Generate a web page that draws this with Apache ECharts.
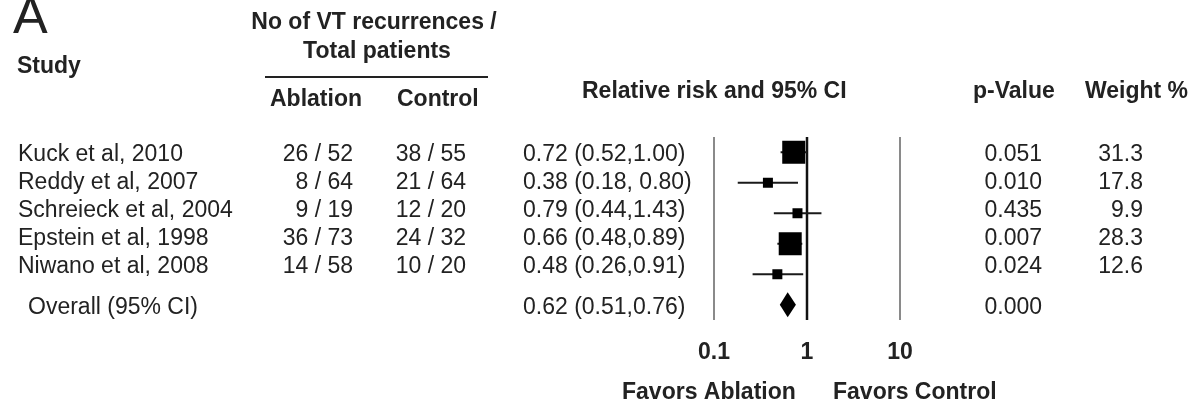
<!DOCTYPE html>
<html>
<head>
<meta charset="utf-8">
<script src="https://cdn.jsdelivr.net/npm/echarts@6/dist/echarts.min.js"></script>
<style>
html,body{margin:0;padding:0;background:#fff;}
#chart{width:1192px;height:402px;}
</style>
</head>
<body>
<div id="chart"></div>
<script>
// ---- data ----
const studies = ['Kuck et al, 2010', 'Reddy et al, 2007', 'Schreieck et al, 2004', 'Epstein et al, 1998', 'Niwano et al, 2008'];
const overallLabel = 'Overall (95% CI)';
const ablation = ['26 / 52', '8 / 64', '9 / 19', '36 / 73', '14 / 58'];
const control = ['38 / 55', '21 / 64', '12 / 20', '24 / 32', '10 / 20'];
const rr = [0.72, 0.38, 0.79, 0.66, 0.48];
const ciLow = [0.52, 0.18, 0.44, 0.48, 0.26];
const ciHigh = [1.00, 0.80, 1.43, 0.89, 0.91];
const rrText = ['0.72 (0.52,1.00)', '0.38 (0.18, 0.80)', '0.79 (0.44,1.43)', '0.66 (0.48,0.89)', '0.48 (0.26,0.91)'];
const pValues = ['0.051', '0.010', '0.435', '0.007', '0.024'];
const weights = ['31.3', '17.8', '9.9', '28.3', '12.6'];
const overallRR = 0.62, overallLow = 0.51, overallHigh = 0.76;
const overallText = '0.62 (0.51,0.76)';
const overallP = '0.000';
const xTicks = [0.1, 1, 10];

// ---- chart ----
const FONT = '"Liberation Sans", Arial, sans-serif';
const REG = '23px ' + FONT;
const BOLD = 'bold 23px ' + FONT;
const INK = '#222';

const chart = echarts.init(document.getElementById('chart'), null, {renderer: 'canvas'});
const rows = studies.concat([overallLabel]);
const overallIdx = studies.length;

function boxSize(w) { return parseFloat(w) >= 20 ? 23 : 10; }

// text rows
const textY0 = 155, textStep = 28, overallTextY = 308;
const graphics = [];
function txt(text, x, y, font, align) {
  graphics.push({type: 'text', silent: true, style: {text: text, x: x, y: y, font: font, fill: INK, textAlign: align || 'left', textVerticalAlign: 'middle'}});
}
studies.forEach(function (s, i) {
  const y = textY0 + i * textStep;
  txt(s, 18, y, REG, 'left');
  txt(ablation[i], 353, y, REG, 'right');
  txt(control[i], 466, y, REG, 'right');
  txt(rrText[i], 523, y, REG, 'left');
  txt(pValues[i], 1042, y, REG, 'right');
  txt(weights[i], 1143, y, REG, 'right');
});
txt(overallLabel, 28, overallTextY, REG, 'left');
txt(overallText, 523, overallTextY, REG, 'left');
txt(overallP, 1042, overallTextY, REG, 'right');
// headers
txt('A', 13, 19, '52px ' + FONT, 'left');
txt('Study', 17, 67, BOLD, 'left');
txt('No of VT recurrences /', 374, 23, BOLD, 'center');
txt('Total patients', 377, 52, BOLD, 'center');
graphics.push({type: 'line', silent: true, shape: {x1: 265, y1: 77, x2: 488, y2: 77}, style: {stroke: INK, lineWidth: 2}});
txt('Ablation', 270, 100, BOLD, 'left');
txt('Control', 397, 100, BOLD, 'left');
txt('Relative risk and 95% CI', 582, 92, BOLD, 'left');
txt('p-Value', 973, 92, BOLD, 'left');
txt('Weight %', 1085, 92, BOLD, 'left');
txt('Favors Ablation', 622, 393, BOLD, 'left');
txt('Favors Control', 833, 393, BOLD, 'left');

const option = {
  backgroundColor: '#fff',
  animation: false,
  grid: {left: 714, width: 186, top: 137, height: 183, containLabel: false},
  xAxis: {
    type: 'log', logBase: 10, min: 0.1, max: 10,
    axisLine: {show: false}, axisTick: {show: false}, splitLine: {show: false},
    axisLabel: {show: true, fontFamily: FONT, fontWeight: 'bold', fontSize: 23, color: INK, margin: 21,
      showMinLabel: true, showMaxLabel: true,
      formatter: function (v) { return String(+(+v).toPrecision(6)); }}
  },
  yAxis: {type: 'category', data: rows, inverse: true, show: false},
  series: [
    {
      type: 'custom', name: 'ref', silent: true, z: 1,
      data: xTicks.map(function (v) { return [v]; }),
      renderItem: function (params, api) {
        const v = api.value(0);
        const x = api.coord([v, 0])[0];
        const cs = params.coordSys;
        return {type: 'line', shape: {x1: x, y1: cs.y, x2: x, y2: cs.y + cs.height},
          style: {stroke: v === 1 ? '#111' : '#8a8a8a', lineWidth: v === 1 ? 2.5 : 2}};
      }
    },
    {
      type: 'custom', name: 'ci', silent: true, z: 2,
      data: studies.map(function (s, i) { return [ciLow[i], ciHigh[i], i]; }),
      renderItem: function (params, api) {
        const p1 = api.coord([api.value(0), api.value(2)]);
        const p2 = api.coord([api.value(1), api.value(2)]);
        return {type: 'line', shape: {x1: p1[0], y1: p1[1], x2: p2[0], y2: p2[1]}, style: {stroke: '#1a1a1a', lineWidth: 2}};
      }
    },
    {
      type: 'scatter', name: 'rr', silent: true, z: 3,
      symbol: 'rect',
      data: studies.map(function (s, i) { return {value: [rr[i], i], symbolSize: boxSize(weights[i])}; }),
      itemStyle: {color: '#000', opacity: 1}
    },
    {
      type: 'custom', name: 'overall', silent: true, z: 3,
      data: [[overallLow, overallRR, overallHigh, overallIdx]],
      renderItem: function (params, api) {
        const y = api.value(3);
        const pl = api.coord([api.value(0), y]);
        const pm = api.coord([api.value(1), y]);
        const ph = api.coord([api.value(2), y]);
        const h = 12.5;
        return {type: 'polygon', shape: {points: [[pl[0], pl[1]], [pm[0], pm[1] - h], [ph[0], ph[1]], [pm[0], pm[1] + h]]},
          style: {fill: '#000'}};
      }
    }
  ],
  graphic: graphics
};
chart.setOption(option);
</script>
</body>
</html>
